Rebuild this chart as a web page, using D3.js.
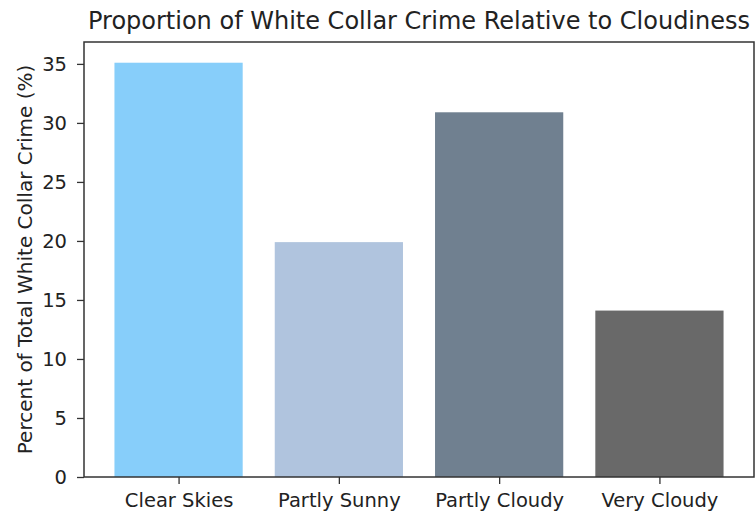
<!DOCTYPE html>
<html><head><meta charset="utf-8">
<script src="https://cdn.jsdelivr.net/npm/d3@7"></script>
<style>body{margin:0;background:#fff}svg{display:block}text{font-family:"DejaVu Sans",sans-serif;fill:#222}</style>
</head><body><svg id="c" width="755" height="512"></svg>
<script>
const categories = ["Clear Skies","Partly Sunny","Partly Cloudy","Very Cloudy"];
const values = [35.1, 19.9, 30.9, 14.1];
const colors = ["#87CEFA","#B0C4DE","#708090","#696969"];
const yTicks = [0,5,10,15,20,25,30,35];
const title = "Proportion of White Collar Crime Relative to Cloudiness";
const yLabel = "Percent of Total White Collar Crime (%)";

const svg = d3.select("#c");
const L = 84, R = 754, T = 42, B = 477;
const x = d3.scaleLinear().domain([-0.59, 3.59]).range([L, R]);
const y = d3.scaleLinear().domain([0, d3.max(values)*1.05]).range([B, T]);
const bw = 0.8;

svg.selectAll("rect.bar").data(values).join("rect").attr("class","bar")
  .attr("x",(d,i)=>x(i-bw/2)).attr("width",(d,i)=>x(i+bw/2)-x(i-bw/2))
  .attr("y",d=>y(d)).attr("height",d=>B-y(d))
  .attr("fill",(d,i)=>colors[i]);

const ya = svg.append("g").attr("transform",`translate(${L},0)`)
  .call(d3.axisLeft(y).tickValues(yTicks).tickSize(7).tickPadding(10));
const xa = svg.append("g").attr("transform",`translate(0,${B})`)
  .call(d3.axisBottom(x).tickValues(d3.range(categories.length)).tickFormat(i=>categories[i]).tickSize(7).tickPadding(7));
[ya,xa].forEach(g=>{g.select(".domain").remove();g.selectAll("line").attr("stroke","#333").attr("stroke-width",1.3);
  g.selectAll("text").attr("font-size",19.5).attr("font-family","DejaVu Sans").attr("fill","#222");});
xa.selectAll("text").attr("y",30).attr("dy",0);

svg.append("rect").attr("x",L).attr("y",T).attr("width",R-L).attr("height",B-T)
  .attr("fill","none").attr("stroke","#333").attr("stroke-width",1.5);

svg.append("text").attr("x",(L+R)/2).attr("y",29).attr("text-anchor","middle")
  .attr("font-size",24).text(title);
svg.append("text").attr("transform",`translate(32,${(T+B)/2}) rotate(-90)`).attr("text-anchor","middle")
  .attr("font-size",20).text(yLabel);
</script></body></html>
